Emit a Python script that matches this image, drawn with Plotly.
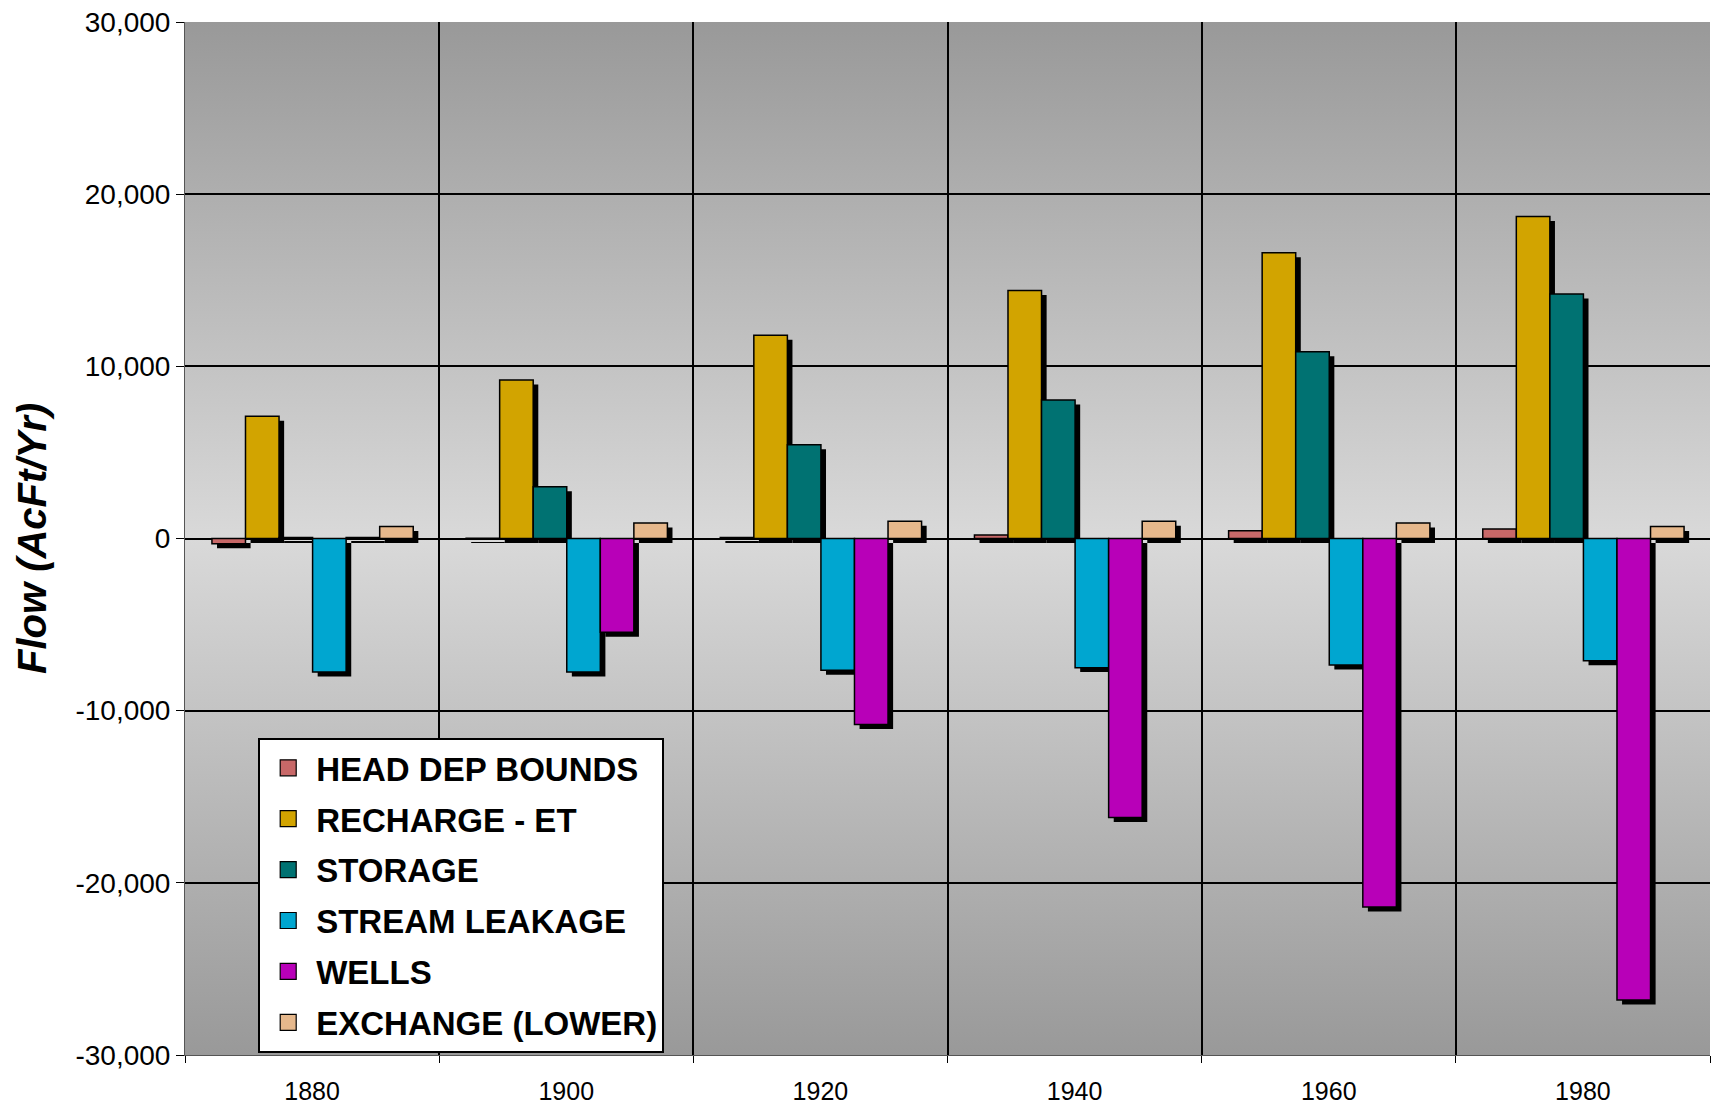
import base64
import plotly.graph_objects as go

years = ["1880", "1900", "1920", "1940", "1960", "1980"]
head_dep_bounds = [-300, 20, 60, 200, 450, 550]
recharge_et = [7100, 9200, 11800, 14400, 16600, 18700]
storage = [60, 3000, 5450, 8050, 10850, 14200]
stream_leakage = [-7750, -7750, -7650, -7500, -7350, -7100]
wells = [60, -5450, -10800, -16200, -21400, -26800]
exchange_lower = [700, 900, 1000, 1000, 900, 700]

series_names = ["HEAD DEP BOUNDS", "RECHARGE - ET", "STORAGE",
                "STREAM LEAKAGE", "WELLS", "EXCHANGE (LOWER)"]
series_values = [head_dep_bounds, recharge_et, storage,
                 stream_leakage, wells, exchange_lower]
series_colors = ["#c86868", "#d2a400", "#007272", "#00a6d0", "#b800b8", "#e6b88c"]

y_tickvals = [-30000, -20000, -10000, 0, 10000, 20000, 30000]
y_ticktext = ["-30,000", "-20,000", "-10,000", "0", "10,000", "20,000", "30,000"]

bar_w = 0.132
start = -0.394
shadow_dx = 0.02
shadow_dy = 260

fig = go.Figure()
for i, (name, vals, col) in enumerate(zip(series_names, series_values, series_colors)):
    off = start + i * bar_w
    fig.add_trace(go.Bar(
        x=years, y=vals, base=[-shadow_dy] * len(vals),
        offset=off + shadow_dx, width=bar_w,
        marker=dict(color="black", line=dict(width=0)),
        showlegend=False, hoverinfo="skip",
    ))
    fig.add_trace(go.Bar(
        x=years, y=vals, name=name,
        offset=off, width=bar_w,
        marker=dict(color=col, line=dict(color="black", width=1.5)),
        showlegend=False,
    ))
    # legend entry with a larger square swatch
    fig.add_trace(go.Scatter(
        x=[None], y=[None], mode="markers", name=name,
        marker=dict(symbol="square", size=17, color=col,
                    line=dict(color="black", width=1.2)),
        legendgroup=name, showlegend=True,
    ))

svg = ('<svg xmlns="http://www.w3.org/2000/svg" width="10" height="100" '
       'preserveAspectRatio="none"><defs><linearGradient id="g" x1="0" y1="0" '
       'x2="0" y2="1"><stop offset="0" stop-color="#999999"/>'
       '<stop offset="0.5" stop-color="#d9d9d9"/>'
       '<stop offset="1" stop-color="#999999"/></linearGradient></defs>'
       '<rect width="10" height="100" fill="url(#g)"/></svg>')
src = "data:image/svg+xml;base64," + base64.b64encode(svg.encode()).decode()

fig.update_layout(
    width=1715, height=1106,
    margin=dict(l=185, r=5, t=22, b=51),
    paper_bgcolor="white",
    plot_bgcolor="rgba(0,0,0,0)",
    barmode="overlay",
    font=dict(family="Liberation Sans, Arial, sans-serif", color="black"),
    images=[dict(source=src, xref="paper", yref="paper", x=0, y=1,
                 sizex=1, sizey=1, xanchor="left", yanchor="top",
                 sizing="stretch", layer="below")],
    legend=dict(
        x=0.048, y=0.307, xanchor="left", yanchor="top",
        bgcolor="white", bordercolor="black", borderwidth=2,
        font=dict(size=33, weight="bold", family="Liberation Sans, Arial, sans-serif"),
        tracegroupgap=5, traceorder="grouped", itemsizing="trace",
        itemwidth=46,
    ),
    xaxis=dict(
        type="category", tickson="boundaries",
        showgrid=True, gridcolor="black", gridwidth=1.5,
        ticks="outside", ticklen=7, tickcolor="black",
        tickfont=dict(size=25), ticklabelstandoff=14,
        showline=True, linecolor="#555555", linewidth=1,
        range=[-0.5, 5.5], automargin=False,
    ),
    yaxis=dict(
        range=[-30000, 30000],
        tickvals=y_tickvals, ticktext=y_ticktext,
        showgrid=True, gridcolor="black", gridwidth=1.5,
        zeroline=True, zerolinecolor="black", zerolinewidth=1.5,
        ticks="outside", ticklen=8, tickcolor="black",
        tickfont=dict(size=28),
        showline=True, linecolor="#555555", linewidth=1,
        automargin=False,
        title=dict(text="Flow (AcFt/Yr)", standoff=16,
                   font=dict(size=40, weight="bold", style="italic")),
    ),
)

fig.write_html("out.html",
               config={"displayModeBar": False},
               post_script="document.body.style.margin='0';document.body.style.overflow='hidden';")
